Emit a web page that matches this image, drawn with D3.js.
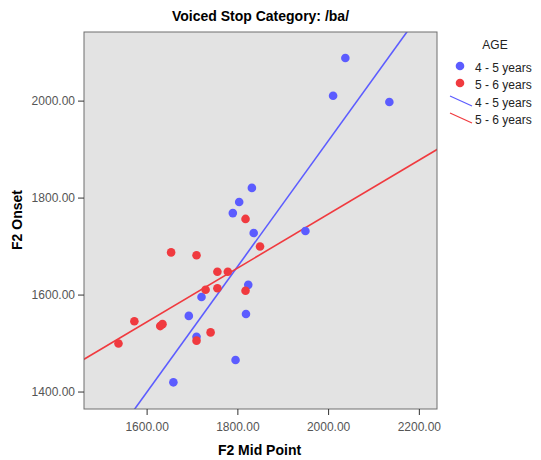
<!DOCTYPE html>
<html>
<head>
<meta charset="utf-8">
<script src="https://cdn.jsdelivr.net/npm/d3@7"></script>
<style>
  body { margin: 0; background: #fff; font-family: "Liberation Sans", Arial, sans-serif; }
</style>
</head>
<body>
<div id="chart"></div>
<script>
// F2 mid point / F2 onset, 4 - 5 years
const youngX = [2038, 2011, 2135, 1832, 1804, 1790, 1836, 1950, 1824, 1819, 1796, 1659, 1693, 1721, 1710];
const youngY = [2088, 2010, 1997, 1820, 1791, 1768, 1727, 1731, 1620, 1560, 1465, 1419, 1556, 1595, 1513];
// 5 - 6 years
const olderX = [1818, 1850, 1654, 1710, 1756, 1779, 1730, 1756, 1818, 1573, 1630, 1635, 1741, 1710, 1538];
const olderY = [1756, 1699, 1687, 1681, 1647, 1647, 1610, 1613, 1608, 1545, 1535, 1539, 1522, 1505, 1499];

const xTicks = [1600, 1800, 2000, 2200];
const yTicks = [1400, 1600, 1800, 2000];
const groups = ["4 - 5 years", "5 - 6 years"];
const colors = ["#5c5cff", "#f03a3f"];

const W = 541, H = 460;
const margin = { top: 32, right: 104, bottom: 51, left: 84 };
const pw = W - margin.left - margin.right, ph = H - margin.top - margin.bottom;

const svg = d3.select("#chart").append("svg").attr("width", W).attr("height", H);

const x = d3.scaleLinear().domain([1462, 2240]).range([0, pw]);
const y = d3.scaleLinear().domain([1364, 2141.5]).range([ph, 0]);

const g = svg.append("g").attr("transform", `translate(${margin.left},${margin.top})`);

g.append("rect").attr("width", pw).attr("height", ph).attr("fill", "#e3e3e3");

g.append("defs").append("clipPath").attr("id", "clip")
  .append("rect").attr("width", pw).attr("height", ph);

function fit(xs, ys) {
  const mx = d3.mean(xs), my = d3.mean(ys);
  let sxy = 0, sxx = 0;
  xs.forEach((v, i) => { sxy += (v - mx) * (ys[i] - my); sxx += (v - mx) * (v - mx); });
  const b = sxy / sxx;
  return { a: my - b * mx, b };
}

const series = [
  { xs: youngX, ys: youngY, color: colors[0] },
  { xs: olderX, ys: olderY, color: colors[1] }
];

// fit lines
const lines = g.append("g").attr("clip-path", "url(#clip)");
series.forEach(s => {
  const f = fit(s.xs, s.ys);
  const [x0, x1] = [1300, 2400];
  lines.append("line")
    .attr("x1", x(x0)).attr("y1", y(f.a + f.b * x0))
    .attr("x2", x(x1)).attr("y2", y(f.a + f.b * x1))
    .attr("stroke", s.color).attr("stroke-width", 1.6);
});

// points (older drawn after younger)
series.forEach(s => {
  g.append("g").selectAll("circle")
    .data(s.xs.map((v, i) => [v, s.ys[i]]))
    .enter().append("circle")
    .attr("cx", d => x(d[0]))
    .attr("cy", d => y(d[1]))
    .attr("r", 4.3)
    .attr("fill", s.color);
});

g.append("rect").attr("width", pw).attr("height", ph)
  .attr("fill", "none").attr("stroke", "#6e6e6e").attr("stroke-width", 1);

const xAxis = g.append("g").attr("transform", `translate(0,${ph})`)
  .call(d3.axisBottom(x).tickValues(xTicks).tickFormat(d3.format(".2f")).tickSize(6).tickSizeOuter(0));
const yAxis = g.append("g")
  .call(d3.axisLeft(y).tickValues(yTicks).tickFormat(d3.format(".2f")).tickSize(6).tickSizeOuter(0));
[xAxis, yAxis].forEach(a => {
  a.select(".domain").remove();
  a.selectAll("line").attr("stroke", "#333");
  a.selectAll("text").attr("fill", "#555").style("font-size", "12px")
    .style("font-family", "Liberation Sans, Arial, sans-serif");
});
xAxis.selectAll("text").attr("dy", "1.1em");

svg.append("text").attr("x", margin.left + pw / 2).attr("y", 21)
  .attr("text-anchor", "middle").style("font-size", "14px").style("font-weight", "bold")
  .text("Voiced Stop Category: /ba/");

svg.append("text").attr("x", margin.left + pw / 2 - 1).attr("y", 455)
  .attr("text-anchor", "middle").style("font-size", "14px").style("font-weight", "bold")
  .text("F2 Mid Point");

svg.append("text").attr("transform", "translate(22,220) rotate(-90)")
  .attr("text-anchor", "middle").style("font-size", "14px").style("font-weight", "bold")
  .text("F2 Onset");

// legend
const lg = svg.append("g").style("font-size", "12px").attr("fill", "#222");
lg.append("text").attr("x", 495).attr("y", 49).attr("text-anchor", "middle").text("AGE");
groups.forEach((name, i) => {
  const cy = 68 + i * 17;
  lg.append("circle").attr("cx", 460).attr("cy", cy - 2).attr("r", 4.3).attr("fill", colors[i]);
  lg.append("text").attr("x", 475).attr("y", cy + 4).text(name);
});
groups.forEach((name, i) => {
  const cy = 102 + i * 17;
  lg.append("line").attr("x1", 450).attr("y1", cy - 6).attr("x2", 472).attr("y2", cy + 4)
    .attr("stroke", colors[i]).attr("stroke-width", 1.2);
  lg.append("text").attr("x", 475).attr("y", cy + 5).text(name);
});
</script>
</body>
</html>
